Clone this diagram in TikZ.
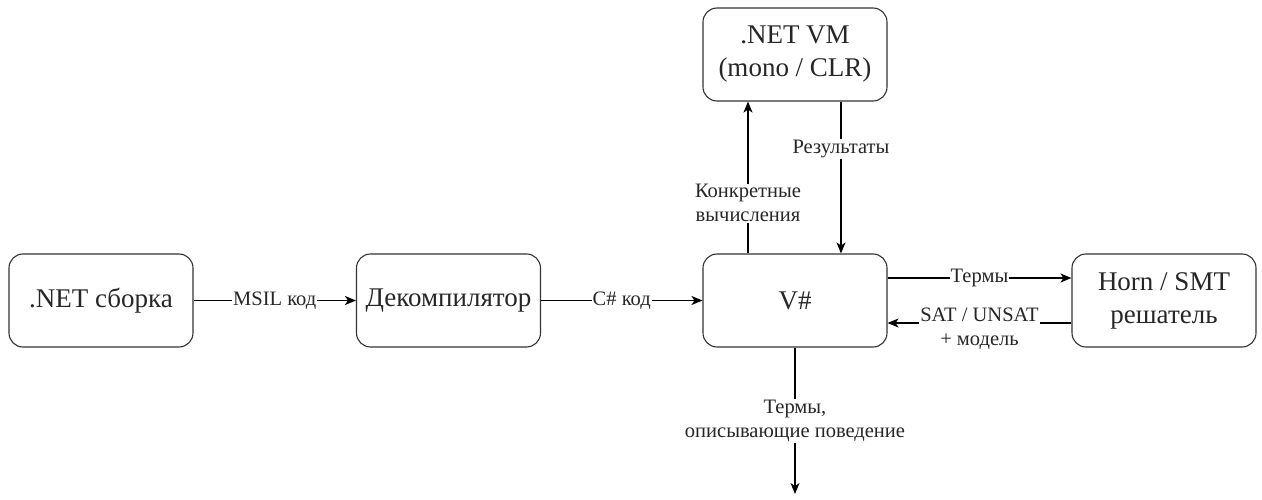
\documentclass[tikz,border=0pt]{standalone}
\usepackage{fontspec}
\setmainfont{Liberation Serif}
\usetikzlibrary{arrows.meta}
\begin{document}
\begin{tikzpicture}[x=1pt,y=-1pt,
  box/.style={draw=black!80, line width=1.1pt, rounded corners=14pt, minimum width=184pt, minimum height=93pt, align=center, font=\fontsize{27}{33}\selectfont, text=black!85, inner sep=0pt},
  arr/.style={draw=black, line width=1.3pt, -{Stealth[length=11pt,width=9pt,inset=3pt]}},
  lbl/.style={fill=white, inner sep=1pt, font=\fontsize{20.5}{24}\selectfont, text=black!85, align=center}]
\useasboundingbox (0,0) rectangle (1262,500);
\node[box] (asm) at (101,300.5) {.NET сборка};
\node[box] (dec) at (448.5,300.5) {Декомпилятор};
\node[box] (vs) at (795,300.5) {V\#};
\node[box] (horn) at (1164,300.5) {Horn / SMT\\решатель};
\node[box] (vm) at (795,54.5) {.NET VM\\(mono / CLR)};
\coordinate (out) at (795,494);
\draw[arr] (asm.east) -- node[lbl] {MSIL код} (dec.west);
\draw[arr] (dec.east) -- node[lbl] {C\# код} (vs.west);
\draw[arr] ([xshift=-47pt]vs.north) -- node[lbl, pos=0.33] {Конкретные\\вычисления} ([xshift=-47pt]vm.south);
\draw[arr] ([xshift=46pt]vm.south) -- node[lbl, pos=0.31] {Результаты} ([xshift=46pt]vs.north);
\draw[arr] ([yshift=22.5pt]vs.east) -- node[lbl] {Термы} ([yshift=22.5pt]horn.west);
\draw[arr] ([yshift=-22.5pt]horn.west) -- node[lbl, anchor=north, yshift=17pt] {SAT / UNSAT\\+ модель} ([yshift=-22.5pt]vs.east);
\draw[arr] (vs.south) -- node[lbl] {Термы,\\описывающие поведение} (out);
\end{tikzpicture}
\end{document}
